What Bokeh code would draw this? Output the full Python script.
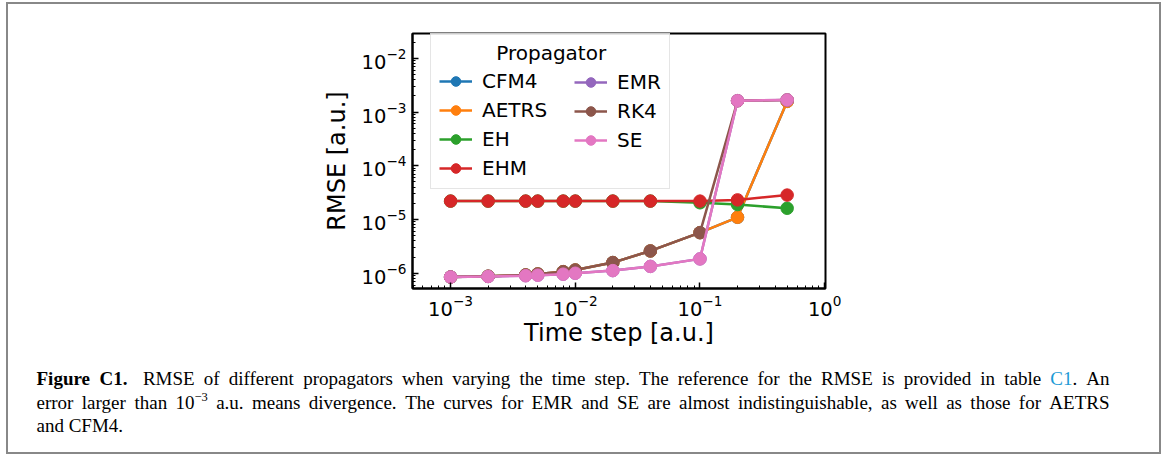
from bokeh.plotting import figure
from bokeh.layouts import column
from bokeh.models import Legend, LegendItem, Label, FixedTicker, Range1d
from bokeh.embed import file_html
from bokeh.resources import INLINE

# ---------------- data ----------------
time_step = [0.001, 0.002, 0.004, 0.005, 0.008, 0.01, 0.02, 0.04, 0.1, 0.2, 0.5]
rmse_cfm4 = [8.5e-7, 8.8e-7, 9.3e-7, 9.7e-7, 1.07e-6, 1.15e-6, 1.58e-6, 2.6e-6, 5.7e-6, 1.1e-5, 1.58e-3]
rmse_aetrs = [8.5e-7, 8.8e-7, 9.3e-7, 9.7e-7, 1.07e-6, 1.15e-6, 1.58e-6, 2.6e-6, 5.7e-6, 1.1e-5, 1.58e-3]
rmse_eh = [2.2e-5, 2.2e-5, 2.2e-5, 2.2e-5, 2.2e-5, 2.2e-5, 2.2e-5, 2.2e-5, 2.05e-5, 1.9e-5, 1.62e-5]
rmse_ehm = [2.2e-5, 2.2e-5, 2.2e-5, 2.2e-5, 2.2e-5, 2.2e-5, 2.2e-5, 2.2e-5, 2.2e-5, 2.32e-5, 2.85e-5]
rmse_emr = [8.5e-7, 8.7e-7, 9.0e-7, 9.2e-7, 9.6e-7, 1.0e-6, 1.12e-6, 1.34e-6, 1.85e-6, 1.63e-3, 1.68e-3]
rmse_rk4 = [8.5e-7, 8.8e-7, 9.3e-7, 9.7e-7, 1.07e-6, 1.15e-6, 1.58e-6, 2.6e-6, 5.7e-6, 1.62e-3, 1.68e-3]
rmse_se = [8.5e-7, 8.7e-7, 9.0e-7, 9.2e-7, 9.6e-7, 1.0e-6, 1.12e-6, 1.34e-6, 1.85e-6, 1.63e-3, 1.68e-3]

series_names = ["CFM4", "AETRS", "EH", "EHM", "EMR", "RK4", "SE"]
series_values = [rmse_cfm4, rmse_aetrs, rmse_eh, rmse_ehm, rmse_emr, rmse_rk4, rmse_se]
series_colors = ["#1f77b4", "#ff7f0e", "#2ca02c", "#d62728", "#9467bd", "#8c564b", "#e377c2"]

x_major_ticks = [1e-3, 1e-2, 1e-1, 1e0]
y_major_ticks = [1e-6, 1e-5, 1e-4, 1e-3, 1e-2]

x_label = "Time step [a.u.]"
y_label = "RMSE [a.u.]"
legend_title = "Propagator"

# caption text: lines of tokens; each token is a list of (text, kind) pieces
caption_lines = [
    [[("Figure", "bold")], [("C1.", "bold")], [("RMSE", "n")], [("of", "n")], [("different", "n")],
     [("propagators", "n")], [("when", "n")], [("varying", "n")], [("the", "n")], [("time", "n")],
     [("step.", "n")], [("The", "n")], [("reference", "n")], [("for", "n")], [("the", "n")],
     [("RMSE", "n")], [("is", "n")], [("provided", "n")], [("in", "n")], [("table", "n")],
     [("C1", "link"), (".", "n")], [("An", "n")]],
    [[("error", "n")], [("larger", "n")], [("than", "n")], [("10", "n"), ("\u22123", "sup")],
     [("a.u.", "n")], [("means", "n")], [("divergence.", "n")], [("The", "n")], [("curves", "n")],
     [("for", "n")], [("EMR", "n")], [("and", "n")], [("SE", "n")], [("are", "n")], [("almost", "n")],
     [("indistinguishable,", "n")], [("as", "n")], [("well", "n")], [("as", "n")], [("those", "n")],
     [("for", "n")], [("AETRS", "n")]],
    [[("and", "n")], [("CFM4.", "n")]],
]

# ---------------- layout constants (page px) ----------------
OX, OY = 8, 4            # content origin inside the bordered box
CW, CH = 1151, 448       # content size
CHART_H = 356            # chart figure height (page y 4..360)
FL, FR, FT, FB = 412, 825, 33, 288   # frame edges in page px

p = figure(width=CW, height=CHART_H, x_axis_type="log", y_axis_type="log",
           x_range=Range1d(4.95e-4, 1.015), y_range=Range1d(5.2e-7, 0.029),
           output_backend="svg", toolbar_location=None,
           min_border_left=FL - OX, min_border_right=OX + CW - FR,
           min_border_top=FT - OY, min_border_bottom=OY + CHART_H - FB)
p.frame_align = False
p.background_fill_color = "white"
p.border_fill_color = "white"
p.outline_line_color = "black"
p.outline_line_width = 2
p.xgrid.visible = False
p.ygrid.visible = False

def minor_for(decades):
    out = []
    for d in decades:
        for m in range(2, 10):
            out.append(m * 10.0 ** d)
    return out

p.xaxis.ticker = FixedTicker(ticks=x_major_ticks, minor_ticks=minor_for(range(-4, 1)))
p.yaxis.ticker = FixedTicker(ticks=y_major_ticks, minor_ticks=minor_for(range(-7, -1)))

for ax in (p.xaxis[0], p.yaxis[0]):
    ax.axis_line_color = "black"
    ax.axis_line_width = 2
    ax.major_tick_in = 6
    ax.major_tick_out = 0
    ax.minor_tick_in = 3
    ax.minor_tick_out = 0
    ax.major_tick_line_width = 1.5
    ax.minor_tick_line_width = 1
    ax.major_tick_line_color = "black"
    ax.minor_tick_line_color = "black"
    ax.major_label_text_font = "DejaVu Sans"
    ax.major_label_text_font_size = "19.5px"
    ax.major_label_text_color = "black"
    ax.axis_label_text_font = "DejaVu Sans"
    ax.axis_label_text_font_size = "24px"
    ax.axis_label_text_font_style = "normal"
    ax.axis_label_text_color = "black"
    ax.major_label_standoff = 6

p.xaxis.axis_label = x_label
p.yaxis.axis_label = y_label
p.xaxis.axis_label_standoff = 0
p.yaxis.axis_label_standoff = 8

items = []
for name, vals, col in zip(series_names, series_values, series_colors):
    ln = p.line(time_step, vals, line_color=col, line_width=2.5)
    sc = p.scatter(time_step, vals, size=12.5, fill_color=col, line_color=col)
    items.append(LegendItem(label=name, renderers=[ln, sc]))

common = dict(label_text_font="DejaVu Sans", label_text_font_size="20px",
              label_text_color="black",
              glyph_width=33, glyph_height=24, label_height=24, label_standoff=10,
              spacing=5, padding=8, margin=0)

legend_a = Legend(items=items[:4], location=(18, 99),
                  title="\u00a0" * 9 + legend_title,
                  title_text_font="DejaVu Sans", title_text_font_size="20px",
                  title_text_font_style="normal", title_text_color="black",
                  title_standoff=4, label_width=179,
                  border_line_color="#cccccc", border_line_width=1.5,
                  background_fill_alpha=0.8, **common)
legend_b = Legend(items=items[4:], location=(154, 128),
                  border_line_alpha=0, background_fill_alpha=0, **common)
p.add_layout(legend_a)
p.add_layout(legend_b)

# ---------------- caption (separate figure, data units = page px) ----------------
cap_top = OY + CHART_H
cap_h = CH - CHART_H
c = figure(width=CW, height=cap_h, x_range=Range1d(OX, OX + CW),
           y_range=Range1d(cap_top + cap_h, cap_top),
           output_backend="svg", toolbar_location=None,
           x_axis_location=None, y_axis_location=None,
           min_border=0, min_border_left=0, min_border_right=0,
           min_border_top=0, min_border_bottom=0)
c.frame_align = False
c.outline_line_color = None
c.xgrid.visible = False
c.ygrid.visible = False
c.background_fill_color = "white"
c.border_fill_color = "white"

# Times/Liberation Serif advance widths (per 1000 em) used for justification
REG = dict(zip("abcdefghijklmnopqrstuvwxyz",
               [444, 500, 444, 500, 444, 333, 500, 500, 278, 278, 500, 278, 778,
                500, 500, 500, 500, 333, 389, 278, 500, 500, 722, 500, 500, 444]))
REG.update(dict(zip("ABCDEFGHIJKLMNOPQRSTUVWXYZ",
                    [722, 667, 667, 722, 611, 556, 722, 722, 333, 389, 722, 611, 889,
                     722, 722, 556, 722, 667, 556, 611, 722, 722, 944, 722, 722, 611])))
REG.update({c_: 500 for c_ in "0123456789"})
REG.update({".": 250, ",": 250, " ": 250, "\u2212": 564})
BOLD = dict(REG)
BOLD.update({"F": 611, "i": 278, "g": 500, "u": 556, "r": 444, "e": 444, "C": 722,
             "1": 500, ".": 250})

CAP_FONT = "Liberation Serif"
CAP_SIZE = 19.0
SUP_SIZE = 12.5
KIND_STYLE = {"n": ("normal", "black", CAP_SIZE, 0.0),
              "bold": ("bold", "black", CAP_SIZE, 0.0),
              "link": ("normal", "#1b9ad6", CAP_SIZE, 0.0),
              "sup": ("normal", "black", SUP_SIZE, -6.0)}

def piece_width(txt, kind):
    table = BOLD if kind == "bold" else REG
    size = KIND_STYLE[kind][2]
    return sum(table.get(ch, 500) for ch in txt) / 1000.0 * size

LINE_LEFT, LINE_RIGHT = 36, 1109
BASELINES = [378, 402, 425]
JUSTIFY = [True, True, False]
space_w = 250 / 1000.0 * CAP_SIZE

for tokens, base, just in zip(caption_lines, BASELINES, JUSTIFY):
    widths = [sum(piece_width(t, k) for t, k in tok) for tok in tokens]
    weights = [1.0] * (len(tokens) - 1)
    if tokens[0][0][1] == "bold":
        weights[1] = 1.7   # wider gap after the bold figure label
    natural = sum(widths) + sum(weights) * space_w
    extra = (LINE_RIGHT - LINE_LEFT - natural) / sum(weights) if just else 0.0
    x = LINE_LEFT
    for i, tok in enumerate(tokens):
        px = x
        for txt, kind in tok:
            style, col, size, dy = KIND_STYLE[kind]
            c.add_layout(Label(x=px, y=base + dy, text=txt,
                               text_font=CAP_FONT, text_font_size=f"{size}px",
                               text_font_style=style, text_color=col,
                               text_baseline="alphabetic", text_align="left"))
            px += piece_width(txt, kind)
        x += widths[i]
        if i < len(weights):
            x += weights[i] * (space_w + extra)

layout = column(p, c, spacing=0,
                styles={"border": "2px solid #888888", "margin-left": "6px",
                        "margin-top": "2px", "background-color": "white"})

open("out.html", "w").write(file_html(layout, INLINE))
